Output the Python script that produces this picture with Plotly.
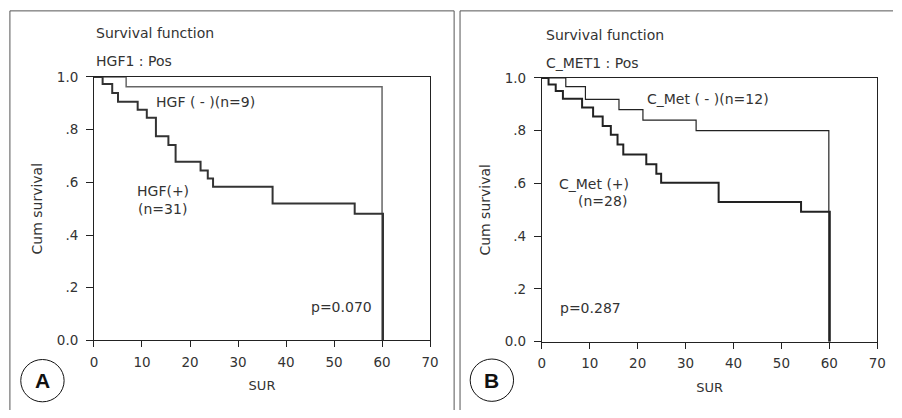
import plotly.graph_objects as go

# ---- data ----
hgf_neg_t = [0, 6.7, 60.0]
hgf_neg_s = [1.0, 0.963, 0.0]

hgf_pos_t = [0, 1.8, 3.8, 5.0, 9.1, 11.0, 12.9, 15.5, 17.0, 22.2, 23.7, 24.8, 37.2, 54.3, 60.2]
hgf_pos_s = [1.0, 0.973, 0.939, 0.906, 0.876, 0.845, 0.775, 0.742, 0.678, 0.645, 0.615, 0.583, 0.520, 0.481, 0.0]

met_neg_t = [0, 5.0, 9.1, 16.1, 21.1, 32.2, 59.9]
met_neg_s = [1.0, 0.967, 0.919, 0.880, 0.840, 0.800, 0.0]

met_pos_t = [0, 1.4, 2.9, 4.4, 8.4, 10.7, 12.7, 14.4, 15.8, 17.0, 21.8, 23.9, 24.9, 36.9, 54.1, 60.1]
met_pos_s = [1.0, 0.975, 0.950, 0.921, 0.888, 0.854, 0.818, 0.785, 0.748, 0.710, 0.673, 0.637, 0.603, 0.530, 0.493, 0.0]

x_ticks = [0, 10, 20, 30, 40, 50, 60, 70]
y_ticks = [0.0, 0.2, 0.4, 0.6, 0.8, 1.0]
y_tick_labels = ["0.0", ".2", ".4", ".6", ".8", "1.0"]

FONT = "DejaVu Sans"
TXT = "#333333"
TICK_SIZE = 13.5
LBL_SIZE = 14
W, H = 902, 418

def fx(px):
    return px / W

def fy(py):
    return 1 - py / H

fig = go.Figure()

def step(x, y, xa, ya, color, width):
    fig.add_trace(go.Scatter(x=x, y=y, mode="lines", line=dict(shape="hv", color=color, width=width),
                             xaxis=xa, yaxis=ya, showlegend=False, hoverinfo="skip"))

step(hgf_neg_t, hgf_neg_s, "x", "y", "#666666", 1.5)
step(hgf_pos_t, hgf_pos_s, "x", "y", "#333333", 2)
step(met_neg_t, met_neg_s, "x2", "y2", "#222222", 1.2)
step(met_pos_t, met_pos_s, "x2", "y2", "#222222", 2)

axis_common = dict(showgrid=False, zeroline=False, showline=True, linecolor="#222222", linewidth=1,
                   mirror=True, ticks="outside", tickcolor="#222222",
                   tickfont=dict(family=FONT, size=TICK_SIZE, color=TXT))

xax = dict(axis_common, range=[0, 70], tickvals=x_ticks, ticklen=6, ticklabelstandoff=3,
           title=dict(text="SUR", font=dict(family=FONT, size=LBL_SIZE - 1, color=TXT), standoff=12))
yax = dict(axis_common, range=[0, 1], tickvals=y_ticks, ticktext=y_tick_labels, ticklen=7,
           ticklabelstandoff=5,
           title=dict(text="Cum survival", font=dict(family=FONT, size=LBL_SIZE, color=TXT), standoff=10))

fig.update_layout(
    width=W, height=H,
    margin=dict(l=0, r=0, t=0, b=0),
    paper_bgcolor="white", plot_bgcolor="white",
    xaxis=dict(xax, domain=[fx(91.3), fx(432.3)], anchor="y"),
    yaxis=dict(yax, domain=[fy(345.7), fy(71.7)], anchor="x"),
    xaxis2=dict(xax, domain=[fx(545.7), fx(886)], anchor="y2"),
    yaxis2=dict(yax, domain=[fy(347), fy(72.7)], anchor="x2"),
)

def ptext(x, y, text, size=LBL_SIZE, xanchor="left"):
    fig.add_annotation(xref="paper", yref="paper", x=fx(x), y=fy(y), text=text,
                       showarrow=False, xanchor=xanchor, yanchor="middle",
                       font=dict(family=FONT, size=size, color=TXT))

# titles
ptext(91, 26, "Survival function")
ptext(91, 55, "HGF1 : Pos")
ptext(548, 28, "Survival function")
ptext(548, 57, "C_MET1 : Pos")

# curve labels
ptext(152, 98, "HGF ( - )(n=9)")
ptext(161, 190, "HGF(+)", xanchor="center")
ptext(161, 209, "(n=31)", xanchor="center")
ptext(309, 311, "p=0.070")
ptext(650, 95, "C_Met ( - )(n=12)")
ptext(599, 183, "C_Met (+)", xanchor="center")
ptext(607, 201, "(n=28)", xanchor="center")
ptext(562, 312, "p=0.287")

# panel frames (inside the figure)
def pline(x0, y0, x1, y1, color="#555555", width=1):
    fig.add_shape(type="line", xref="paper", yref="paper", x0=fx(x0), x1=fx(x1),
                  y0=fy(y0), y1=fy(y1), line=dict(color=color, width=width))

pline(6, 3, 456.7, 3)
pline(6, 3, 6, H)
pline(456.7, 3, 456.7, H)
pline(462.7, 3, W, 3)
pline(462.7, 3, 462.7, H)

# circled letters
for cx, cy, letter in [(39, 387.5, "A"), (495, 387, "B")]:
    fig.add_shape(type="circle", xref="paper", yref="paper",
                  x0=fx(cx - 22), x1=fx(cx + 22), y0=fy(cy + 22), y1=fy(cy - 22),
                  line=dict(color="#111111", width=1))
    fig.add_annotation(xref="paper", yref="paper", x=fx(cx), y=fy(cy), text="<b>%s</b>" % letter,
                       showarrow=False, xanchor="center", yanchor="middle",
                       font=dict(family="Liberation Sans", size=21, color="#111111"))

fig.write_html(
    "out.html",
    config={"displayModeBar": False, "staticPlot": True},
    post_script=("document.documentElement.style.margin='0';document.body.style.margin='0';"
                 "document.documentElement.style.overflow='hidden';document.body.style.overflow='hidden';"
                 "var gd=document.getElementById('{plot_id}');"
                 "gd.style.position='fixed';gd.style.left='0px';gd.style.top='0px';"
                 "window.scrollTo(0,0);"),
)
